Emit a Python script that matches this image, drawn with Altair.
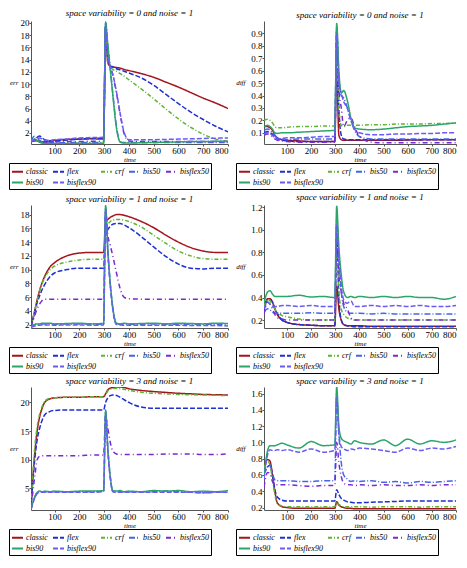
import altair as alt
import pandas as pd

TIME = [5, 20, 30, 40, 50, 60, 80, 100, 150, 200, 250, 298, 306, 315, 325, 335,
        350, 365, 380, 400, 450, 500, 550, 600, 650, 700, 750, 800]
METHODS = ["classic", "flex", "crf", "bis50", "bisflex50", "bis90", "bisflex90"]
COLORS = ["#a3141c", "#1f2fd0", "#5fb530", "#4466e6", "#7a2ad0", "#2ca56a", "#6a5cf0"]
DASHES = [[1, 0], [5, 2], [4, 2, 1, 2], [6, 2, 1, 2], [5, 3, 1, 3], [1, 0], [5, 2]]
X_TICKS = [100, 200, 300, 400, 500, 600, 700, 800]

# ---- space variability = 0 : err ----
E0_classic = [0.6, 0.8, 0.7, 0.6, 0.55, 0.55, 0.7, 0.8, 0.95, 1.0, 1.05, 1.0, 19.0, 13.5, 12.9, 12.8, 12.7, 12.6, 12.4, 12.2, 11.7, 11.1, 10.3, 9.5, 8.6, 7.7, 6.9, 6.0]
E0_flex = [0.6, 1.0, 1.3, 1.5, 1.2, 0.9, 0.7, 0.7, 0.85, 1.0, 1.1, 1.2, 19.8, 13.8, 13.0, 12.8, 12.5, 12.3, 12.1, 11.8, 11.0, 9.8, 8.3, 6.8, 5.4, 4.2, 3.1, 2.2]
E0_crf = [0.5, 0.9, 0.7, 0.5, 0.4, 0.35, 0.3, 0.3, 0.3, 0.35, 0.35, 0.35, 18.0, 13.5, 12.8, 12.4, 12.1, 11.7, 11.3, 10.7, 9.2, 7.6, 5.9, 4.3, 2.9, 1.8, 1.0, 0.6]
E0_bis50 = [0.7, 1.5, 1.1, 0.8, 0.55, 0.45, 0.4, 0.4, 0.4, 0.45, 0.45, 0.45, 20.2, 16.5, 12.5, 8.5, 3.0, 0.6, 0.45, 0.45, 0.45, 0.45, 0.45, 0.45, 0.45, 0.45, 0.45, 0.45]
E0_bisflex50 = [0.6, 0.7, 0.6, 0.5, 0.5, 0.5, 0.5, 0.55, 0.6, 0.6, 0.65, 0.65, 19.0, 14.0, 12.8, 11.5, 8.5, 5.0, 2.0, 0.7, 0.6, 0.6, 0.6, 0.6, 0.6, 0.6, 0.6, 0.6]
E0_bis90 = [0.8, 1.0, 0.8, 0.5, 0.35, 0.3, 0.25, 0.25, 0.25, 0.3, 0.3, 0.3, 20.0, 16.3, 12.3, 8.3, 2.8, 0.5, 0.35, 0.35, 0.4, 0.45, 0.5, 0.55, 0.6, 0.6, 0.65, 0.65]
E0_bisflex90 = [0.6, 0.9, 1.1, 1.2, 1.0, 0.8, 0.8, 0.9, 1.0, 1.2, 1.25, 1.3, 19.5, 14.2, 12.9, 11.6, 8.7, 5.2, 2.2, 0.9, 0.9, 0.9, 0.95, 1.0, 1.05, 1.1, 1.15, 1.2]

# ---- space variability = 0 : diff ----
D0_classic = [0.15, 0.15, 0.14, 0.12, 0.08, 0.06, 0.045, 0.04, 0.035, 0.03, 0.03, 0.03, 0.6, 0.08, 0.045, 0.04, 0.04, 0.04, 0.04, 0.04, 0.04, 0.04, 0.04, 0.042, 0.043, 0.044, 0.045, 0.045]
D0_flex = [0.1, 0.11, 0.1, 0.09, 0.07, 0.05, 0.04, 0.035, 0.03, 0.03, 0.03, 0.03, 0.93, 0.3, 0.08, 0.05, 0.045, 0.045, 0.045, 0.045, 0.045, 0.045, 0.045, 0.045, 0.045, 0.045, 0.045, 0.045]
D0_crf = [0.2, 0.21, 0.2, 0.18, 0.15, 0.14, 0.14, 0.145, 0.15, 0.15, 0.155, 0.155, 0.7, 0.3, 0.16, 0.15, 0.16, 0.16, 0.16, 0.16, 0.165, 0.165, 0.17, 0.17, 0.17, 0.175, 0.175, 0.18]
D0_bis50 = [0.12, 0.13, 0.12, 0.1, 0.08, 0.06, 0.05, 0.045, 0.05, 0.05, 0.05, 0.05, 0.95, 0.55, 0.4, 0.38, 0.3, 0.2, 0.12, 0.07, 0.05, 0.05, 0.05, 0.05, 0.05, 0.05, 0.05, 0.05]
D0_bisflex50 = [0.08, 0.09, 0.08, 0.07, 0.05, 0.04, 0.035, 0.03, 0.025, 0.025, 0.025, 0.025, 0.85, 0.45, 0.3, 0.15, 0.2, 0.22, 0.15, 0.07, 0.025, 0.02, 0.02, 0.02, 0.02, 0.02, 0.02, 0.02]
D0_bis90 = [0.15, 0.16, 0.15, 0.13, 0.1, 0.095, 0.1, 0.1, 0.105, 0.11, 0.115, 0.12, 0.98, 0.6, 0.42, 0.44, 0.36, 0.22, 0.14, 0.13, 0.125, 0.13, 0.14, 0.15, 0.155, 0.16, 0.17, 0.18]
D0_bisflex90 = [0.09, 0.1, 0.09, 0.08, 0.06, 0.05, 0.055, 0.06, 0.06, 0.065, 0.07, 0.07, 0.9, 0.5, 0.42, 0.35, 0.3, 0.2, 0.13, 0.1, 0.085, 0.085, 0.09, 0.09, 0.095, 0.095, 0.1, 0.1]

# ---- space variability = 1 : err ----
E1_classic = [1.7, 4.0, 5.6, 7.0, 8.1, 9.0, 10.3, 11.0, 12.0, 12.4, 12.5, 12.5, 17.0, 17.3, 17.6, 17.8, 18.0, 18.0, 17.9, 17.7, 17.0, 16.1, 15.0, 14.0, 13.2, 12.7, 12.5, 12.5]
E1_flex = [1.7, 3.8, 5.2, 6.2, 7.1, 7.8, 8.9, 9.5, 10.0, 10.2, 10.2, 10.2, 15.0, 15.8, 16.3, 16.6, 16.7, 16.7, 16.5, 16.1, 14.8, 13.3, 11.9, 10.8, 10.2, 10.1, 10.2, 10.2]
E1_crf = [1.7, 4.0, 5.6, 7.0, 8.0, 8.8, 9.9, 10.5, 11.1, 11.4, 11.5, 11.5, 16.0, 16.6, 17.0, 17.2, 17.3, 17.3, 17.2, 17.0, 16.2, 15.0, 13.8, 12.7, 12.0, 11.6, 11.5, 11.5]
E1_bis50 = [1.6, 2.0, 2.05, 2.05, 2.1, 2.1, 2.1, 2.05, 2.1, 2.1, 2.05, 2.1, 19.0, 12.7, 7.8, 4.4, 2.1, 2.05, 2.05, 2.05, 2.05, 2.1, 2.05, 2.05, 2.05, 2.05, 2.05, 2.0]
E1_bisflex50 = [1.7, 3.3, 4.3, 5.0, 5.5, 5.7, 5.7, 5.7, 5.7, 5.7, 5.7, 5.7, 18.5, 15.0, 13.5, 12.0, 9.5, 7.2, 6.0, 5.75, 5.7, 5.7, 5.7, 5.7, 5.7, 5.7, 5.7, 5.7]
E1_bis90 = [1.6, 2.0, 2.1, 2.1, 2.2, 2.2, 2.2, 2.1, 2.15, 2.2, 2.1, 2.2, 19.3, 13.0, 8.0, 4.5, 2.2, 2.1, 2.2, 2.1, 2.15, 2.2, 2.1, 2.2, 2.15, 2.1, 2.2, 2.15]
E1_bisflex90 = [1.6, 1.8, 1.9, 1.9, 1.95, 1.95, 1.95, 1.9, 1.95, 1.95, 1.9, 1.95, 18.8, 12.5, 7.6, 4.2, 2.0, 1.95, 1.9, 1.9, 1.9, 1.9, 1.9, 1.9, 1.85, 1.85, 1.85, 1.8]

# ---- space variability = 1 : diff ----
D1_classic = [0.3, 0.39, 0.39, 0.36, 0.3, 0.25, 0.2, 0.18, 0.16, 0.155, 0.15, 0.15, 0.5, 0.3, 0.2, 0.16, 0.15, 0.15, 0.15, 0.15, 0.145, 0.145, 0.145, 0.145, 0.145, 0.145, 0.145, 0.145]
D1_flex = [0.28, 0.38, 0.38, 0.36, 0.3, 0.26, 0.2, 0.18, 0.16, 0.155, 0.15, 0.15, 0.95, 0.4, 0.2, 0.16, 0.15, 0.145, 0.14, 0.14, 0.14, 0.14, 0.14, 0.14, 0.14, 0.14, 0.14, 0.14]
D1_crf = [0.32, 0.38, 0.37, 0.34, 0.3, 0.27, 0.24, 0.23, 0.21, 0.2, 0.2, 0.2, 0.8, 0.45, 0.3, 0.25, 0.22, 0.21, 0.2, 0.2, 0.2, 0.2, 0.2, 0.2, 0.2, 0.2, 0.2, 0.2]
D1_bis50 = [0.27, 0.3, 0.29, 0.27, 0.26, 0.26, 0.26, 0.26, 0.26, 0.265, 0.26, 0.26, 1.1, 0.75, 0.45, 0.32, 0.27, 0.26, 0.26, 0.26, 0.255, 0.26, 0.255, 0.255, 0.255, 0.255, 0.255, 0.255]
D1_bisflex50 = [0.25, 0.36, 0.34, 0.3, 0.25, 0.22, 0.21, 0.2, 0.2, 0.2, 0.2, 0.2, 0.9, 0.6, 0.45, 0.35, 0.3, 0.22, 0.2, 0.2, 0.2, 0.2, 0.2, 0.2, 0.2, 0.2, 0.2, 0.2]
D1_bis90 = [0.35, 0.45, 0.46, 0.43, 0.41, 0.41, 0.41, 0.41, 0.42, 0.405, 0.41, 0.40, 1.21, 0.85, 0.6, 0.45, 0.4, 0.41, 0.4, 0.41, 0.4, 0.41, 0.4, 0.41, 0.4, 0.4, 0.385, 0.41]
D1_bisflex90 = [0.3, 0.36, 0.34, 0.32, 0.32, 0.32, 0.33, 0.33, 0.32, 0.33, 0.32, 0.32, 1.05, 0.75, 0.5, 0.38, 0.35, 0.37, 0.32, 0.32, 0.33, 0.32, 0.33, 0.32, 0.33, 0.32, 0.32, 0.33]

# ---- space variability = 3 : err ----
E3_classic = [1.8, 11.0, 15.0, 17.5, 19.0, 20.0, 20.6, 20.8, 20.9, 20.9, 21.0, 21.0, 21.5, 22.2, 22.5, 22.6, 22.7, 22.7, 22.6, 22.4, 22.1, 21.9, 21.75, 21.6, 21.5, 21.4, 21.35, 21.3]
E3_flex = [1.8, 10.0, 13.5, 15.5, 16.9, 17.8, 18.4, 18.6, 18.7, 18.7, 18.7, 18.7, 20.0, 20.8, 21.2, 21.3, 21.2, 20.9, 20.5, 20.0, 19.2, 19.0, 19.0, 19.0, 19.0, 19.0, 19.0, 19.0]
E3_crf = [1.8, 12.0, 15.8, 18.0, 19.3, 20.2, 20.7, 20.8, 20.9, 20.9, 21.0, 21.0, 21.3, 22.0, 22.3, 22.4, 22.5, 22.4, 22.3, 22.1, 21.8, 21.6, 21.5, 21.4, 21.35, 21.3, 21.25, 21.2]
E3_bis50 = [1.3, 3.4, 4.2, 4.4, 4.4, 4.4, 4.4, 4.4, 4.4, 4.4, 4.4, 4.5, 18.7, 12.0, 7.0, 4.5, 4.4, 4.4, 4.4, 4.4, 4.4, 4.4, 4.5, 4.4, 4.3, 4.2, 4.3, 4.4]
E3_bisflex50 = [1.5, 7.0, 10.0, 10.6, 10.7, 10.7, 10.7, 10.7, 10.7, 10.7, 10.8, 10.8, 17.5, 15.5, 13.0, 11.5, 11.0, 10.9, 10.9, 10.9, 10.9, 10.9, 11.0, 11.0, 11.0, 10.9, 10.9, 11.0]
E3_bis90 = [1.3, 3.5, 4.3, 4.5, 4.4, 4.5, 4.4, 4.5, 4.4, 4.5, 4.5, 4.6, 18.5, 12.0, 7.0, 4.6, 4.5, 4.6, 4.4, 4.5, 4.4, 4.6, 4.5, 4.6, 4.4, 4.5, 4.4, 4.6]
E3_bisflex90 = [1.3, 3.3, 4.1, 4.3, 4.3, 4.3, 4.3, 4.3, 4.3, 4.3, 4.3, 4.4, 18.0, 11.5, 6.7, 4.4, 4.3, 4.3, 4.3, 4.3, 4.3, 4.3, 4.3, 4.3, 4.3, 4.2, 4.3, 4.3]

# ---- space variability = 3 : diff ----
D3_classic = [0.7, 0.79, 0.77, 0.6, 0.4, 0.26, 0.21, 0.2, 0.19, 0.19, 0.19, 0.19, 0.27, 0.23, 0.21, 0.2, 0.19, 0.19, 0.185, 0.185, 0.185, 0.185, 0.185, 0.185, 0.185, 0.185, 0.185, 0.185]
D3_flex = [0.62, 0.7, 0.72, 0.6, 0.42, 0.33, 0.29, 0.28, 0.28, 0.28, 0.28, 0.28, 0.42, 0.36, 0.31, 0.29, 0.27, 0.265, 0.26, 0.26, 0.265, 0.27, 0.275, 0.28, 0.28, 0.28, 0.28, 0.28]
D3_crf = [0.68, 0.77, 0.72, 0.55, 0.36, 0.25, 0.22, 0.21, 0.21, 0.21, 0.21, 0.21, 0.27, 0.24, 0.22, 0.21, 0.21, 0.21, 0.21, 0.21, 0.205, 0.21, 0.21, 0.21, 0.205, 0.21, 0.21, 0.21]
D3_bis50 = [0.6, 0.7, 0.72, 0.62, 0.54, 0.53, 0.53, 0.53, 0.52, 0.52, 0.53, 0.53, 1.6, 1.1, 0.75, 0.6, 0.55, 0.52, 0.53, 0.52, 0.53, 0.51, 0.52, 0.5, 0.52, 0.51, 0.52, 0.53]
D3_bisflex50 = [0.45, 0.63, 0.62, 0.52, 0.48, 0.48, 0.48, 0.48, 0.47, 0.46, 0.47, 0.47, 1.0, 0.75, 0.58, 0.5, 0.48, 0.48, 0.47, 0.48, 0.47, 0.48, 0.47, 0.47, 0.48, 0.47, 0.48, 0.48]
D3_bis90 = [0.6, 0.9, 0.96, 0.96, 0.96, 0.97, 0.99, 0.97, 0.93, 1.01, 0.96, 0.97, 1.68, 1.2, 1.05, 1.02, 1.0, 0.98, 1.02, 1.0, 0.98, 1.03, 0.96, 1.04, 0.98, 1.02, 1.0, 1.03]
D3_bisflex90 = [0.55, 0.85, 0.91, 0.9, 0.9, 0.91, 0.9, 0.91, 0.88, 0.92, 0.88, 0.9, 1.55, 1.1, 0.95, 0.92, 0.9, 0.92, 0.91, 0.93, 0.92, 0.9, 0.88, 0.93, 0.9, 0.93, 0.92, 0.95]

PANELS = [
    dict(title="space variability = 0  and  noise = 1", ytitle="err", ydom=[0.2, 20.3],
         yticks=[2, 4, 6, 8, 10, 12, 14, 16, 18, 20], fmt="d",
         series=[E0_classic, E0_flex, E0_crf, E0_bis50, E0_bisflex50, E0_bis90, E0_bisflex90]),
    dict(title="space variability = 0  and  noise = 1", ytitle="diff", ydom=[0.01, 1.0],
         yticks=[0.1, 0.2, 0.3, 0.4, 0.5, 0.6, 0.7, 0.8, 0.9], fmt=".1f",
         series=[D0_classic, D0_flex, D0_crf, D0_bis50, D0_bisflex50, D0_bis90, D0_bisflex90]),
    dict(title="space variability = 1  and  noise = 1", ytitle="err", ydom=[1.5, 19.4],
         yticks=[2, 4, 6, 8, 10, 12, 14, 16, 18], fmt="d",
         series=[E1_classic, E1_flex, E1_crf, E1_bis50, E1_bisflex50, E1_bis90, E1_bisflex90]),
    dict(title="space variability = 1  and  noise = 1", ytitle="diff", ydom=[0.13, 1.22],
         yticks=[0.2, 0.4, 0.6, 0.8, 1.0, 1.2], fmt=".1f",
         series=[D1_classic, D1_flex, D1_crf, D1_bis50, D1_bisflex50, D1_bis90, D1_bisflex90]),
    dict(title="space variability = 3  and  noise = 1", ytitle="err", ydom=[1.2, 22.7],
         yticks=[5, 10, 15, 20], fmt="d",
         series=[E3_classic, E3_flex, E3_crf, E3_bis50, E3_bisflex50, E3_bis90, E3_bisflex90]),
    dict(title="space variability = 3  and  noise = 1", ytitle="diff", ydom=[0.17, 1.68],
         yticks=[0.2, 0.4, 0.6, 0.8, 1.0, 1.2, 1.4, 1.6], fmt=".1f",
         series=[D3_classic, D3_flex, D3_crf, D3_bis50, D3_bisflex50, D3_bis90, D3_bisflex90]),
]

H = 123
SERIF = "Liberation Serif"


def make_panel(p, width, legend_x, ytitle_x):
    rows = []
    for m, vals in zip(METHODS, p["series"]):
        assert len(vals) == len(TIME)
        for t, v in zip(TIME, vals):
            rows.append({"time": t, "v": v, "method": m})
    df = pd.DataFrame(rows)
    leg = dict(orient="none", legendX=legend_x, legendY=H + 19, direction="horizontal",
               columns=5, title=None, symbolType="stroke", symbolSize=121,
               symbolStrokeWidth=2, labelFont=SERIF, labelFontStyle="italic",
               labelFontWeight="normal", labelFontSize=8, labelOffset=2,
               strokeColor="black", fillColor="white", padding=2, gridAlign="each",
               columnPadding=1, rowPadding=0, labelLimit=60)
    return alt.Chart(df).mark_line(strokeWidth=1.5, clip=True, interpolate="monotone").encode(
        x=alt.X("time:Q", scale=alt.Scale(domain=[5, 800], nice=False, zero=False),
                axis=alt.Axis(values=X_TICKS, title="time", format="d", grid=False)),
        y=alt.Y("v:Q", scale=alt.Scale(domain=p["ydom"], nice=False, zero=False),
                axis=alt.Axis(values=p["yticks"], format=p["fmt"], title=p["ytitle"],
                              grid=False, titleAngle=0, titleAlign="right",
                              titleBaseline="middle", titleX=ytitle_x, titleY=H * 0.5)),
        color=alt.Color("method:N", scale=alt.Scale(domain=METHODS, range=COLORS),
                        legend=alt.Legend(**leg)),
        strokeDash=alt.StrokeDash("method:N", scale=alt.Scale(domain=METHODS, range=DASHES),
                                  legend=alt.Legend(**leg)),
    ).properties(
        width=width, height=H,
        title=alt.TitleParams(p["title"], font=SERIF, fontSize=9, fontStyle="italic",
                              fontWeight="normal", offset=1, anchor="middle"),
    )


rows = []
for i in range(3):
    left = make_panel(PANELS[2 * i], 197, -22, -13)
    right = make_panel(PANELS[2 * i + 1], 192, -28, -19)
    rows.append(alt.hconcat(left, right, spacing=6).resolve_scale(
        color="independent", strokeDash="independent"))

chart = alt.vconcat(*rows, spacing=3, padding=0).resolve_scale(
    color="independent", strokeDash="independent"
).configure_view(stroke=None).configure_axis(
    grid=False, labelFont=SERIF, labelFontSize=9, labelColor="black",
    titleFont=SERIF, titleFontSize=7, titleFontStyle="italic", titleFontWeight="normal",
    titleColor="black", domainColor="#555", tickColor="#555", tickSize=2,
    labelPadding=0, titlePadding=0
)

chart.save("out.html", embed_options={"renderer": "svg", "actions": False})
